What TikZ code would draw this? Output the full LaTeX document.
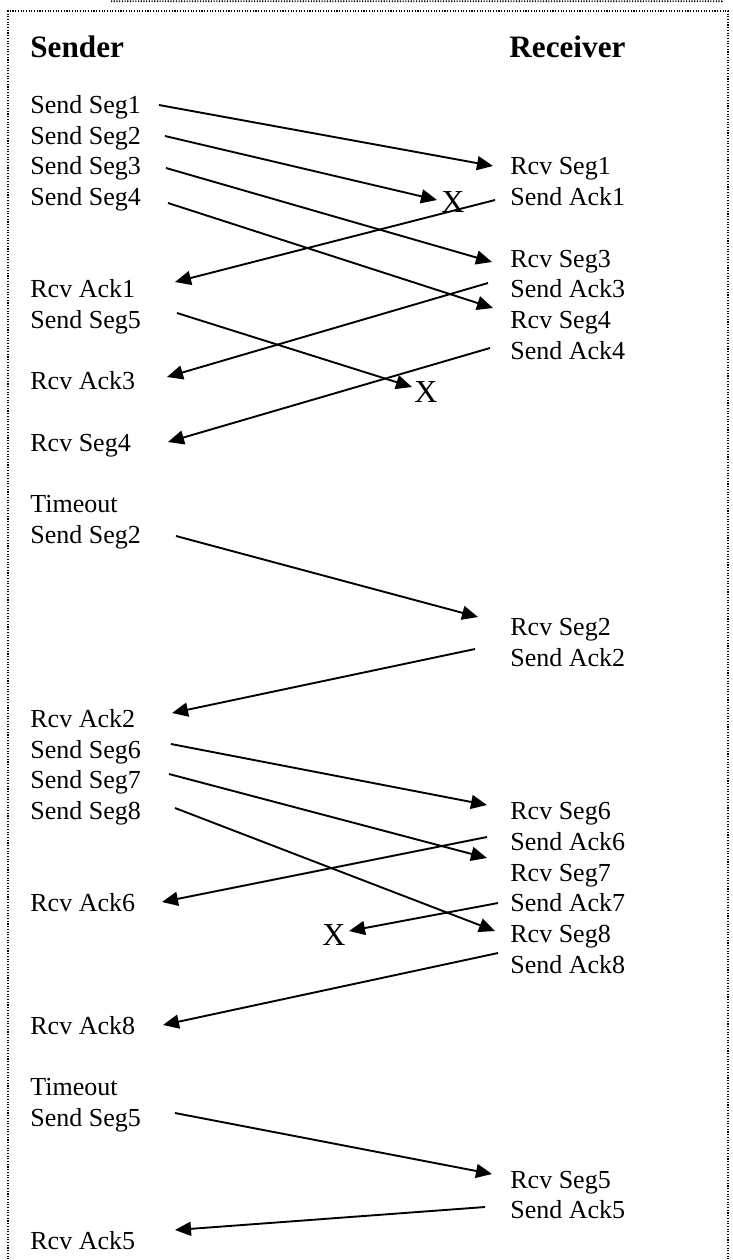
\documentclass[tikz,border=0pt]{standalone}
\usepackage{fontspec}
\setmainfont{Liberation Serif}
\usetikzlibrary{arrows.meta}
\newcommand{\bodyfont}{\fontsize{13}{15}\selectfont}
\newcommand{\headfont}{\fontsize{15.6}{18}\selectfont\bfseries}
\newcommand{\xfont}{\fontsize{16}{18}\selectfont}
\begin{document}
\begin{tikzpicture}[x=0.5pt,y=-0.5pt,
  lt/.style={anchor=base west, inner sep=0pt, font=\bodyfont},
  head/.style={anchor=base west, inner sep=0pt, font=\headfont},
  xmark/.style={anchor=center, inner sep=0pt, font=\xfont},
  msg/.style={-{Triangle[length=8pt,width=7pt]}, line width=0.95pt},
  frame/.style={line width=0.9pt, dash pattern=on 0.55pt off 0.8pt}]
\useasboundingbox (0,0) rectangle (733,1260);
% frames
\draw[frame] (8,1262) |- (728,11) -- (728,1262);
\draw[frame] (111,1.2) -- (722,1.2) -- (723,0);
% headers
\node[head] (sender) at (30,57.5) {Sender};
\node[head] (receiver) at (509,57.5) {Receiver};
% sender column
\node[lt] (sSeg1) at (30,113.5) {Send Seg1};
\node[lt] (sSeg2) at (30,144.2) {Send Seg2};
\node[lt] (sSeg3) at (30,174.9) {Send Seg3};
\node[lt] (sSeg4) at (30,205.6) {Send Seg4};
\node[lt] (rAck1) at (30,297.7) {Rcv Ack1};
\node[lt] (sSeg5) at (30,328.4) {Send Seg5};
\node[lt] (rAck3) at (30,389.8) {Rcv Ack3};
\node[lt] (rSeg4L) at (30,451.2) {Rcv Seg4};
\node[lt] (to1) at (30,512.6) {Timeout};
\node[lt] (sSeg2b) at (30,543.3) {Send Seg2};
\node[lt] (rAck2) at (30,727.5) {Rcv Ack2};
\node[lt] (sSeg6) at (30,758.2) {Send Seg6};
\node[lt] (sSeg7) at (30,788.9) {Send Seg7};
\node[lt] (sSeg8) at (30,819.6) {Send Seg8};
\node[lt] (rAck6) at (30,911.7) {Rcv Ack6};
\node[lt] (rAck8) at (30,1034.5) {Rcv Ack8};
\node[lt] (to2) at (30,1095.9) {Timeout};
\node[lt] (sSeg5b) at (30,1126.6) {Send Seg5};
\node[lt] (rAck5) at (30,1249.4) {Rcv Ack5};
% receiver column
\node[lt] (RSeg1) at (510,174.9) {Rcv Seg1};
\node[lt] (SAck1) at (510,205.6) {Send Ack1};
\node[lt] (RSeg3) at (510,267.0) {Rcv Seg3};
\node[lt] (SAck3) at (510,297.7) {Send Ack3};
\node[lt] (RSeg4) at (510,328.4) {Rcv Seg4};
\node[lt] (SAck4) at (510,359.1) {Send Ack4};
\node[lt] (RSeg2) at (510,635.4) {Rcv Seg2};
\node[lt] (SAck2) at (510,666.1) {Send Ack2};
\node[lt] (RSeg6) at (510,819.6) {Rcv Seg6};
\node[lt] (SAck6) at (510,850.3) {Send Ack6};
\node[lt] (RSeg7) at (510,881.0) {Rcv Seg7};
\node[lt] (SAck7) at (510,911.7) {Send Ack7};
\node[lt] (RSeg8) at (510,942.4) {Rcv Seg8};
\node[lt] (SAck8) at (510,973.1) {Send Ack8};
\node[lt] (RSeg5) at (510,1188.0) {Rcv Seg5};
\node[lt] (SAck5) at (510,1218.7) {Send Ack5};
% lost marks
\node[xmark] (x1) at (453,202) {X};
\node[xmark] (x2) at (426,392) {X};
\node[xmark] (x3) at (334,935) {X};
% messages
\draw[msg] ([shift={(129,-8.5)}]sSeg1.base west) -- ([shift={(-17,-8.9)}]RSeg1.base west);
\draw[msg] ([shift={(135,-8.2)}]sSeg2.base west) -- ([shift={(-16,-2)}]x1.center);
\draw[msg] ([shift={(136,-6.9)}]sSeg3.base west) -- ([shift={(-18,-5)}]RSeg3.base west);
\draw[msg] ([shift={(138,-2.6)}]sSeg4.base west) -- ([shift={(-17,-20.4)}]RSeg4.base west);
\draw[msg] ([shift={(-15,-5.6)}]SAck1.base west) -- ([shift={(145,-15.7)}]rAck1.base west);
\draw[msg] ([shift={(-22,-14.7)}]SAck3.base west) -- ([shift={(137,-12.8)}]rAck3.base west);
\draw[msg] ([shift={(147,-15.4)}]sSeg5.base west) -- ([shift={(-14,-5)}]x2.center);
\draw[msg] ([shift={(-20,-11.1)}]SAck4.base west) -- ([shift={(138,-9.2)}]rSeg4L.base west);
\draw[msg] ([shift={(146,-7.3)}]sSeg2b.base west) -- ([shift={(-32,-18.4)}]RSeg2.base west);
\draw[msg] ([shift={(-35,-17.1)}]SAck2.base west) -- ([shift={(142,-14.5)}]rAck2.base west);
\draw[msg] ([shift={(141,-14.2)}]sSeg6.base west) -- ([shift={(-23,-14.6)}]RSeg6.base west);
\draw[msg] ([shift={(139,-14.9)}]sSeg7.base west) -- ([shift={(-23,-23)}]RSeg7.base west);
\draw[msg] ([shift={(145,-11.6)}]sSeg8.base west) -- ([shift={(-15,-11.4)}]RSeg8.base west);
\draw[msg] ([shift={(-23,-13.3)}]SAck6.base west) -- ([shift={(132,-9.7)}]rAck6.base west);
\draw[msg] ([shift={(-12,-8.7)}]SAck7.base west) -- ([shift={(15,-4)}]x3.center);
\draw[msg] ([shift={(-12,-20.1)}]SAck8.base west) -- ([shift={(133,-9.5)}]rAck8.base west);
\draw[msg] ([shift={(145,-13.6)}]sSeg5b.base west) -- ([shift={(-18,-14)}]RSeg5.base west);
\draw[msg] ([shift={(-25,-11.7)}]SAck5.base west) -- ([shift={(145,-19.4)}]rAck5.base west);
\end{tikzpicture}
\end{document}
